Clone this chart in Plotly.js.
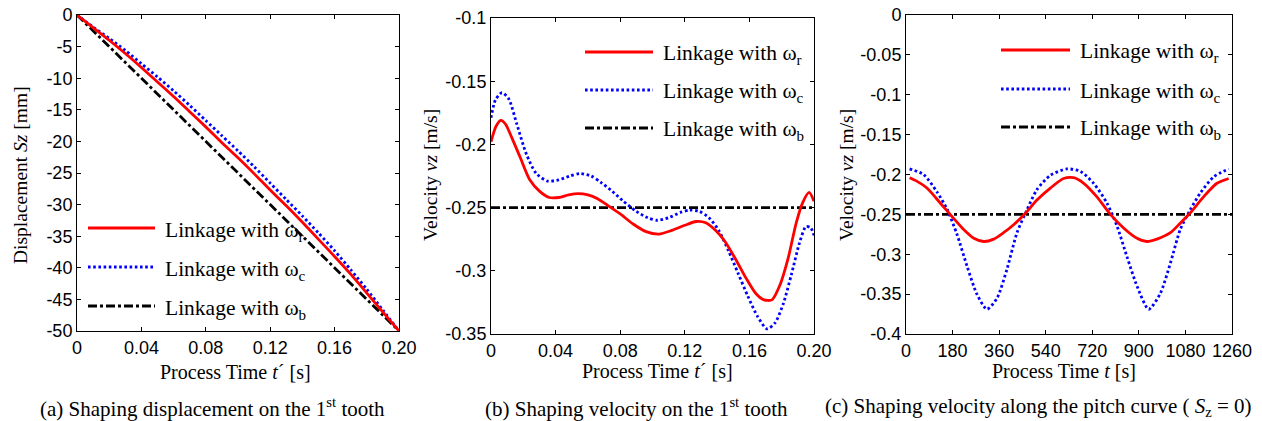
<!DOCTYPE html>
<html>
<head>
<meta charset="utf-8">
<script src="https://cdn.plot.ly/plotly-3.0.1.min.js"></script>
<style>html,body{margin:0;padding:0;background:#fff;}#chart{width:1262px;height:421px;}</style>
</head>
<body>
<div id="chart"></div>
<script>
// ---------- Data: (a) displacement on the 1st tooth ----------
const timeA = [0,0.01,0.02,0.03,0.04,0.05,0.06,0.07,0.08,0.09,0.10,0.11,0.12,0.13,0.14,0.15,0.16,0.17,0.18,0.19,0.20];
const dispR = [0,-2.0,-4.0,-6.1,-8.3,-10.6,-12.9,-15.3,-17.7,-20.2,-22.6,-25.1,-27.7,-30.2,-32.8,-35.5,-38.2,-41.0,-44.0,-47.0,-50];
const dispC = [0,-1.9,-3.7,-5.6,-7.7,-9.8,-12.0,-14.3,-16.7,-19.1,-21.5,-24.0,-26.6,-29.2,-31.8,-34.5,-37.3,-40.3,-43.4,-46.7,-50];
const timeAB = [0,0.20];
const dispB = [0,-50];

// ---------- Data: (b) velocity on the 1st tooth ----------
const timeBR = [0,0.003,0.006,0.009,0.013,0.018,0.024,0.030,0.036,0.042,0.048,0.054,0.060,0.066,0.072,0.080,0.088,0.096,0.104,0.112,0.120,0.127,0.133,0.139,0.145,0.152,0.158,0.164,0.169,0.174,0.179,0.184,0.189,0.193,0.197,0.200];
const velBR = [-0.198,-0.186,-0.181,-0.184,-0.195,-0.210,-0.228,-0.237,-0.242,-0.242,-0.240,-0.239,-0.240,-0.243,-0.248,-0.255,-0.263,-0.269,-0.271,-0.268,-0.264,-0.261,-0.262,-0.268,-0.277,-0.292,-0.306,-0.318,-0.323,-0.323,-0.311,-0.290,-0.262,-0.246,-0.238,-0.245];
const timeBC = [0,0.0027,0.0068,0.011,0.016,0.022,0.028,0.035,0.042,0.049,0.055,0.062,0.068,0.075,0.082,0.090,0.097,0.103,0.110,0.117,0.123,0.129,0.135,0.141,0.147,0.153,0.159,0.165,0.171,0.176,0.181,0.186,0.191,0.195,0.198,0.200];
const velBC = [-0.179,-0.165,-0.159,-0.164,-0.184,-0.208,-0.223,-0.229,-0.228,-0.225,-0.223,-0.225,-0.230,-0.237,-0.245,-0.253,-0.258,-0.260,-0.258,-0.254,-0.252,-0.253,-0.258,-0.268,-0.284,-0.302,-0.320,-0.336,-0.346,-0.341,-0.326,-0.303,-0.278,-0.265,-0.266,-0.272];
const timeBB = [0,0.20];
const velBB = [-0.25,-0.25];

// ---------- Data: (c) velocity along the pitch curve ----------
const timeCR = [14,40,81,133,184,223,262,300,339,377,416,461,506,558,609,648,687,738,790,841,893,931,970,1022,1060,1099,1150,1202,1247];
const velCR = [-0.204,-0.208,-0.217,-0.236,-0.255,-0.269,-0.280,-0.284,-0.281,-0.273,-0.263,-0.249,-0.232,-0.217,-0.205,-0.204,-0.211,-0.228,-0.250,-0.267,-0.280,-0.284,-0.281,-0.273,-0.261,-0.248,-0.228,-0.211,-0.205];
const timeCC = [14,68,120,158,197,236,274,313,352,390,429,468,506,558,622,674,725,777,816,854,893,938,983,1022,1060,1099,1138,1189,1247];
const velCC = [-0.193,-0.200,-0.222,-0.243,-0.275,-0.315,-0.350,-0.369,-0.355,-0.319,-0.273,-0.244,-0.219,-0.201,-0.193,-0.196,-0.211,-0.236,-0.265,-0.303,-0.340,-0.369,-0.349,-0.311,-0.269,-0.244,-0.223,-0.203,-0.193];
const timeCB = [0,1260];
const velCB = [-0.25,-0.25];

// ---------- Tick labels ----------
const tickA_x = [0,0.04,0.08,0.12,0.16,0.20];
const tickA_xText = ['0','0.04','0.08','0.12','0.16','0.20'];
const tickA_y = [0,-5,-10,-15,-20,-25,-30,-35,-40,-45,-50];
const tickA_yText = ['0','-5','-10','-15','-20','-25','-30','-35','-40','-45','-50'];
const tickB_y = [-0.1,-0.15,-0.2,-0.25,-0.3,-0.35];
const tickB_yText = ['-0.1','-0.15','-0.2','-0.25','-0.3','-0.35'];
const tickC_x = [0,180,360,540,720,900,1080,1260];
const tickC_xText = ['0','180','360','540','720','900','1080','1260'];
const tickC_y = [0,-0.05,-0.1,-0.15,-0.2,-0.25,-0.3,-0.35,-0.4];
const tickC_yText = ['0','-0.05','-0.1','-0.15','-0.2','-0.25','-0.3','-0.35','-0.4'];

const legendNames = ['Linkage with ω<sub>r</sub>','Linkage with ω<sub>c</sub>','Linkage with ω<sub>b</sub>'];

// ---------- Styles ----------
const styR = {color:'#ff0000', width:2.8, dash:'solid', shape:'spline', smoothing:0.7};
const styC = {color:'#0000ff', width:2.8, dash:'2.6px,2.6px', shape:'spline', smoothing:0.7};
const styB = {color:'#000000', width:2.8, dash:'9px,3px,3px,3px'};
const styles = [styR, styC, styB];

function tr(x, y, line, xa, ya, name){
  return {x:x, y:y, type:'scatter', mode:'lines', line:line, xaxis:xa, yaxis:ya, name:name, hoverinfo:'skip'};
}

const data = [
  tr(timeAB, dispB, styB, 'x', 'y', legendNames[2]),
  tr(timeA, dispC, styC, 'x', 'y', legendNames[1]),
  tr(timeA, dispR, styR, 'x', 'y', legendNames[0]),
  tr(timeBB, velBB, styB, 'x2', 'y2', legendNames[2]),
  tr(timeBC, velBC, styC, 'x2', 'y2', legendNames[1]),
  tr(timeBR, velBR, styR, 'x2', 'y2', legendNames[0]),
  tr(timeCB, velCB, styB, 'x3', 'y3', legendNames[2]),
  tr(timeCC, velCC, styC, 'x3', 'y3', legendNames[1]),
  tr(timeCR, velCR, styR, 'x3', 'y3', legendNames[0])
];

const W = 1262, H = 421;
const px = v => v / W;
const py = v => 1 - v / H;

const tickFont = {family:'"Liberation Sans", Arial, sans-serif', size:18, color:'#000'};
function axis(domain, range, vals, text, anchor){
  return {domain:domain, range:range, tickmode:'array', tickvals:vals, ticktext:text,
    showline:true, linecolor:'#000', linewidth:1, mirror:'ticks', ticks:'inside', ticklen:4,
    tickcolor:'#000', tickwidth:1, showgrid:false, zeroline:false, tickfont:tickFont,
    anchor:anchor, fixedrange:true, automargin:false};
}

const serif = '"Liberation Serif", "Times New Roman", "DejaVu Serif", serif';
const annotations = [];
const shapes = [];
function txt(x, y, text, size, angle, xanchor){
  annotations.push({xref:'paper', yref:'paper', x:px(x), y:py(y), text:text, showarrow:false,
    xanchor:xanchor || 'center', yanchor:'middle', textangle:angle || 0,
    font:{family:serif, size:size, color:'#000'}});
}
// axis titles
txt(20, 175, 'Displacement <i>Sz</i> [mm]', 19.5, -90);
txt(236, 372, 'Process Time <i>t</i>´ [s]', 20);
txt(430, 175, 'Velocity <i>vz</i> [m/s]', 19.5, -90);
txt(658, 371, 'Process Time <i>t</i>´ [s]', 20);
txt(846, 175, 'Velocity <i>vz</i> [m/s]', 19.5, -90);
txt(1064, 371, 'Process Time <i>t</i> [s]', 20);
// captions
txt(212, 407, '(a) Shaping displacement on the 1<sup>st</sup> tooth', 21);
txt(636, 407, '(b) Shaping velocity on the 1<sup>st</sup> tooth', 21);
txt(1038, 407, '(c) Shaping velocity along the pitch curve ( <i>S</i><sub>z</sub> = 0)', 21);

// legends (one per panel)
function legend(x0, x1, ys){
  for (let i = 0; i < 3; i++){
    const s = styles[i];
    shapes.push({type:'line', xref:'paper', yref:'paper', x0:px(x0), x1:px(x1), y0:py(ys[i]), y1:py(ys[i]),
      line:{color:s.color, width:s.width, dash:s.dash}});
    txt(x1 + 8, ys[i] + 3, legendNames[i], 21.5, 0, 'left');
  }
}
legend(88, 155, [228, 267, 306]);
legend(585, 653, [52, 90, 128]);
legend(1001, 1070, [50, 89, 127]);

const layout = {
  width:W, height:H, margin:{l:0, r:0, t:0, b:0},
  paper_bgcolor:'#fff', plot_bgcolor:'#fff', showlegend:false,
  xaxis: axis([px(77), px(399)], [0, 0.2], tickA_x, tickA_xText, 'y'),
  yaxis: axis([py(331), py(15)], [-50, 0], tickA_y, tickA_yText, 'x'),
  xaxis2: axis([px(491), px(814)], [0, 0.2], tickA_x, tickA_xText, 'y2'),
  yaxis2: axis([py(334), py(18)], [-0.35, -0.1], tickB_y, tickB_yText, 'x2'),
  xaxis3: axis([px(906), px(1232)], [0, 1260], tickC_x, tickC_xText, 'y3'),
  yaxis3: axis([py(334), py(15)], [-0.4, 0], tickC_y, tickC_yText, 'x3'),
  annotations:annotations, shapes:shapes
};

Plotly.newPlot('chart', data, layout, {staticPlot:true, displayModeBar:false});
</script>
</body>
</html>
